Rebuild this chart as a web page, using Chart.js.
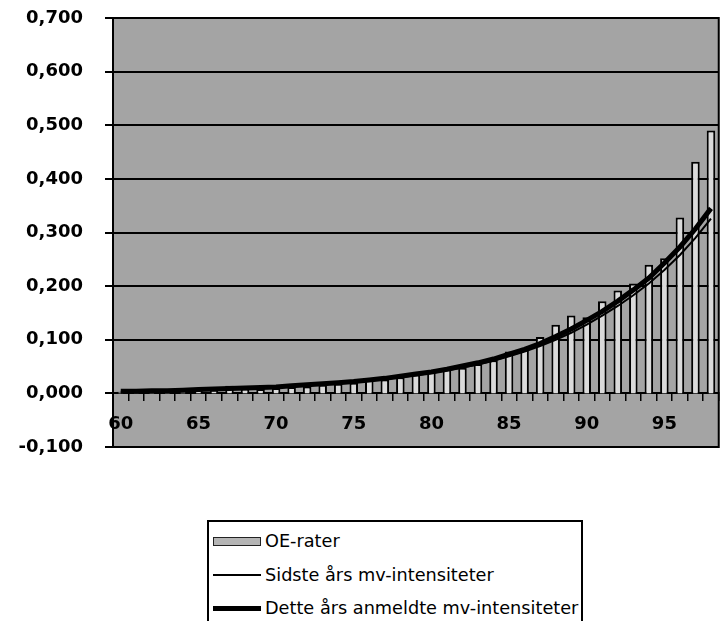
<!DOCTYPE html>
<html>
<head>
<meta charset="utf-8">
<script src="https://cdn.jsdelivr.net/npm/chart.js@4/dist/chart.umd.min.js"></script>
<style>
    body { margin: 0; background: #fff; }
    .chart-box { position: absolute; left: 0; top: 0; width: 724px; height: 470px; }
    .legend-box {
        position: absolute; left: 207px; top: 520px; width: 376px; height: 104px;
        border: 2px solid #000; box-sizing: border-box;
        font-family: "DejaVu Sans", Verdana, sans-serif; font-size: 17.7px; color: #000;
    }
    .legend-row { position: absolute; left: 4px; height: 20px; display: flex; align-items: center; }
    .legend-row span { margin-left: 4px; }
    .sym-bar { width: 46px; height: 7px; background: #b5b5b5; border: 1px solid #222; }
    .sym-line { width: 48px; background: #000; }
</style>
</head>
<body>
<div class="chart-box"><canvas id="oe-chart"></canvas></div>
<div class="legend-box" id="oe-legend"></div>
<script>

var ages = [60, 61, 62, 63, 64, 65, 66, 67, 68, 69,
            70, 71, 72, 73, 74, 75, 76, 77, 78, 79,
            80, 81, 82, 83, 84, 85, 86, 87, 88, 89,
            90, 91, 92, 93, 94, 95, 96, 97, 98];

var xTickLabels = ["60", "65", "70", "75", "80", "85", "90", "95"];

var oeRater = [0.003, 0.003, 0.004, 0.004, 0.004, 0.008, 0.006, 0.014, 0.009, 0.008,
               0.010, 0.012, 0.013, 0.016, 0.018, 0.020, 0.025, 0.026, 0.030, 0.035,
               0.040, 0.045, 0.048, 0.055, 0.062, 0.078, 0.085, 0.105, 0.128, 0.145,
               0.142, 0.172, 0.192, 0.205, 0.240, 0.252, 0.328, 0.432, 0.490];

var sidsteAars = [0.003, 0.004, 0.004, 0.005, 0.005, 0.006, 0.007, 0.008, 0.009, 0.010,
                  0.012, 0.013, 0.015, 0.017, 0.019, 0.021, 0.024, 0.027, 0.030, 0.034,
                  0.038, 0.043, 0.048, 0.054, 0.061, 0.069, 0.078, 0.088, 0.100, 0.113,
                  0.128, 0.145, 0.163, 0.183, 0.205, 0.230, 0.258, 0.290, 0.326];

var detteAars = [0.004, 0.004, 0.005, 0.005, 0.006, 0.007, 0.008, 0.009, 0.010, 0.011,
                 0.012, 0.014, 0.016, 0.018, 0.020, 0.022, 0.025, 0.028, 0.032, 0.036,
                 0.040, 0.045, 0.051, 0.057, 0.064, 0.073, 0.082, 0.093, 0.106, 0.120,
                 0.136, 0.153, 0.172, 0.193, 0.215, 0.243, 0.273, 0.307, 0.345];

var seriesNames = ["OE-rater", "Sidste års mv-intensiteter", "Dette års anmeldte mv-intensiteter"];

var plotBackground = {
    id: "plotBackground",
    beforeDraw(chart) {
        let a = chart.chartArea;
        let ctx = chart.ctx;
        ctx.save();
        ctx.fillStyle = "#a4a4a4";
        ctx.fillRect(a.left, a.top, a.right - a.left, a.bottom - a.top);
        ctx.restore();
    },
    afterDraw(chart) {
        let a = chart.chartArea;
        let ctx = chart.ctx;
        ctx.save();
        ctx.strokeStyle = "#000";
        ctx.lineWidth = 2;
        ctx.strokeRect(a.left, a.top, a.right - a.left, a.bottom - a.top);
        ctx.restore();
    }
};

function buildLegend(chart) {
    let box = document.getElementById("oe-legend");
    let rowTops = [9, 43, 76];
    chart.data.datasets.forEach(function (ds, i) {
        let row = document.createElement("div");
        row.className = "legend-row";
        row.style.top = rowTops[i] + "px";
        let sym = document.createElement("div");
        if (ds.type === "line") {
            sym.className = "sym-line";
            sym.style.height = ds.borderWidth + "px";
        } else {
            sym.className = "sym-bar";
        }
        let txt = document.createElement("span");
        txt.textContent = ds.label;
        row.appendChild(sym);
        row.appendChild(txt);
        box.appendChild(row);
    });
}

let chartData = {
    labels: ages,
    datasets: [{
        type: "bar",
        label: seriesNames[0],
        data: oeRater,
        backgroundColor: "#dadada",
        borderColor: "#000",
        borderWidth: 2,
        barPercentage: 0.55,
        categoryPercentage: 1,
        order: 3
    }, {
        type: "line",
        label: seriesNames[1],
        data: sidsteAars,
        borderColor: "#000",
        borderWidth: 2,
        pointRadius: 0,
        fill: false,
        order: 2
    }, {
        type: "line",
        label: seriesNames[2],
        data: detteAars,
        borderColor: "#000",
        borderWidth: 5,
        pointRadius: 0,
        fill: false,
        order: 1
    }]
};

let axisFont = { family: "'DejaVu Sans', Verdana, sans-serif", size: 18, weight: "bold" };

let chartOptions = {
    responsive: true,
    maintainAspectRatio: false,
    animation: false,
    layout: {
        padding: { left: 0, top: 18, right: 2, bottom: 23 }
    },
    plugins: {
        legend: { display: false },
        tooltip: { enabled: false }
    },
    scales: {
        x: {
            position: { y: 0 },
            grid: {
                drawOnChartArea: false,
                drawTicks: true,
                tickLength: 7,
                color: "#000",
                lineWidth: 1.5
            },
            border: { display: true, color: "#000", width: 2 },
            ticks: {
                autoSkip: false,
                maxRotation: 0,
                padding: 13,
                color: "#000",
                font: axisFont,
                callback: function (val, idx) {
                    let lab = String(ages[idx]);
                    return xTickLabels.includes(lab) ? lab : "";
                }
            },
            afterFit: function (scale) {
                scale.height = 0;
            }
        },
        y: {
            min: -0.1,
            max: 0.7,
            grid: {
                color: "#000",
                lineWidth: 2,
                tickLength: 8
            },
            border: { display: true, color: "#000", width: 2 },
            ticks: {
                stepSize: 0.1,
                padding: 22,
                color: "#000",
                font: axisFont,
                callback: function (v) {
                    if (Math.abs(v) < 1e-9) {
                        v = 0;
                    }
                    return v.toFixed(3).replace(".", ",");
                }
            },
            afterFit: function (scale) {
                scale.width = 113;
                scale.paddingTop = 0;
                scale.paddingBottom = 0;
            }
        }
    }
};

let ctx = document.getElementById("oe-chart").getContext("2d");
let oeChart = new Chart(ctx, {
    type: "bar",
    data: chartData,
    options: chartOptions,
    plugins: [plotBackground]
});

buildLegend(oeChart);
</script>
</body>
</html>
